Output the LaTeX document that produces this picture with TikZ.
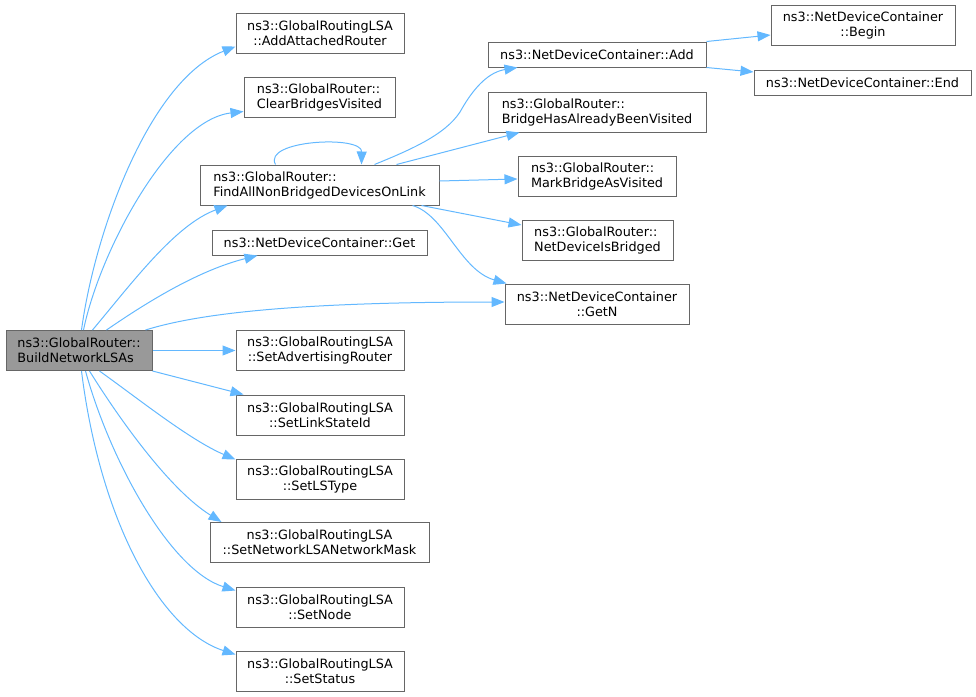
\documentclass[tikz,border=0pt]{standalone}
\usepackage{fontspec}
\setmainfont{DejaVu Sans}
\usetikzlibrary{arrows.meta,calc}
\definecolor{edgeblue}{HTML}{63B8FF}
\definecolor{bordergray}{HTML}{666666}
\definecolor{rootfill}{HTML}{999999}
\begin{document}
\begin{tikzpicture}[x=1pt,y=-1pt,
  box/.style={draw=bordergray, line width=1pt, fill=white, inner sep=0pt,
    font=\fontsize{12.8}{15}\selectfont, align=center, text=black},
  lbox/.style={box, align=left},
  edge/.style={draw=edgeblue, line width=1pt, -{Triangle[length=13pt,width=10pt]}},
]
\useasboundingbox (0,0) rectangle (976,696);

% nodes
\node[lbox, fill=rootfill, minimum width=146, minimum height=40] (build) at (79,350.5) {ns3::GlobalRouter::\\BuildNetworkLSAs};
\node[box, minimum width=168, minimum height=40] (aar) at (320,33) {ns3::GlobalRoutingLSA\\::AddAttachedRouter};
\node[lbox, minimum width=151, minimum height=40] (cbv) at (319.5,97) {ns3::GlobalRouter::\\ClearBridgesVisited};
\node[lbox, minimum width=239, minimum height=40] (fan) at (319.5,185) {ns3::GlobalRouter::\\FindAllNonBridgedDevicesOnLink};
\node[box, minimum width=215, minimum height=25] (get) at (319.5,242.5) {ns3::NetDeviceContainer::Get};
\node[box, minimum width=168, minimum height=40] (sar) at (320,350.5) {ns3::GlobalRoutingLSA\\::SetAdvertisingRouter};
\node[box, minimum width=168, minimum height=40] (slsi) at (320,415) {ns3::GlobalRoutingLSA\\::SetLinkStateId};
\node[box, minimum width=168, minimum height=40] (slst) at (320,479) {ns3::GlobalRoutingLSA\\::SetLSType};
\node[box, minimum width=219, minimum height=40] (snm) at (319.5,542.5) {ns3::GlobalRoutingLSA\\::SetNetworkLSANetworkMask};
\node[box, minimum width=168, minimum height=40] (snode) at (320,607) {ns3::GlobalRoutingLSA\\::SetNode};
\node[box, minimum width=168, minimum height=40] (sstat) at (320,671) {ns3::GlobalRoutingLSA\\::SetStatus};
\node[box, minimum width=218, minimum height=25] (add) at (597,54.5) {ns3::NetDeviceContainer::Add};
\node[lbox, minimum width=218, minimum height=40] (bhv) at (597,112) {ns3::GlobalRouter::\\BridgeHasAlreadyBeenVisited};
\node[lbox, minimum width=158, minimum height=40] (mbv) at (597,176) {ns3::GlobalRouter::\\MarkBridgeAsVisited};
\node[lbox, minimum width=151, minimum height=40] (ndib) at (597.5,240) {ns3::GlobalRouter::\\NetDeviceIsBridged};
\node[box, minimum width=184, minimum height=40] (getn) at (597,304) {ns3::NetDeviceContainer\\::GetN};
\node[box, minimum width=184, minimum height=40] (beginn) at (863,25) {ns3::NetDeviceContainer\\::Begin};
\node[box, minimum width=217, minimum height=25] (endn) at (862.5,82.5) {ns3::NetDeviceContainer::End};

% edges from BuildNetworkLSAs
\draw[edge] ($(build.north west)+(76,0)$) .. controls (95,230) and (150,80) .. ($(aar.south west)+(0,-7)$);
\draw[edge] ($(build.north west)+(78,0)$) .. controls (100,250) and (170,120) .. ($(cbv.south west)+(0,-6)$);
\draw[edge] ($(build.north west)+(87,0)$) .. controls (132,283) and (175,225) .. ($(fan.south west)+(28,0)$);
\draw[edge] ($(build.north west)+(101,0)$) .. controls (150,300) and (200,270) .. ($(get.south west)+(46,0)$);
\draw[edge] ($(build.north east)+(-7,0)$) .. controls (200,313) and (300,302) .. ($(getn.west)+(0,-2)$);
\draw[edge] (build.east) -- (sar.west);
\draw[edge] (build.south east) -- ($(slsi.north west)+(8,0)$);
\draw[edge] ($(build.south west)+(94,0)$) .. controls (140,400) and (190,440) .. ($(slst.north west)+(0,1)$);
\draw[edge] ($(build.south west)+(84,0)$) .. controls (120,420) and (170,490) .. ($(snm.north west)+(12,0)$);
\draw[edge] ($(build.south west)+(80,0)$) .. controls (110,460) and (170,570) .. ($(snode.north west)+(0,4)$);
\draw[edge] ($(build.south west)+(76,0)$) .. controls (100,520) and (160,630) .. ($(sstat.north west)+(0,4)$);

% edges from FindAllNonBridgedDevicesOnLink
\draw[edge] ($(fan.north west)+(76,0)$) .. controls (262,140) and (362,135) .. ($(fan.north west)+(162,0)$);
\coordinate (fanaddmid) at (460,112);
\draw[edge] ($(fan.north west)+(175,0)$) .. controls (410,150) and (445,135) .. (fanaddmid)
  .. controls (475,85) and (490,72) .. ($(add.south west)+(30,0)$);
\draw[edge] ($(fan.north west)+(197,0)$) -- ($(bhv.south west)+(32,0)$);
\draw[edge] ($(fan.east)+(0,-4)$) -- ($(mbv.west)+(0,3)$);
\draw[edge] ($(fan.south west)+(222,0)$) -- ($(ndib.west)+(0,-15)$);
\draw[edge] ($(fan.south west)+(213,0)$) .. controls (445,215) and (460,270) .. ($(getn.north west)+(2,0)$);

% edges from Add
\draw[edge] (add.north east) -- ($(beginn.west)+(0,10)$);
\draw[edge] (add.south east) -- ($(endn.west)+(0,-10.5)$);
\end{tikzpicture}
\end{document}
